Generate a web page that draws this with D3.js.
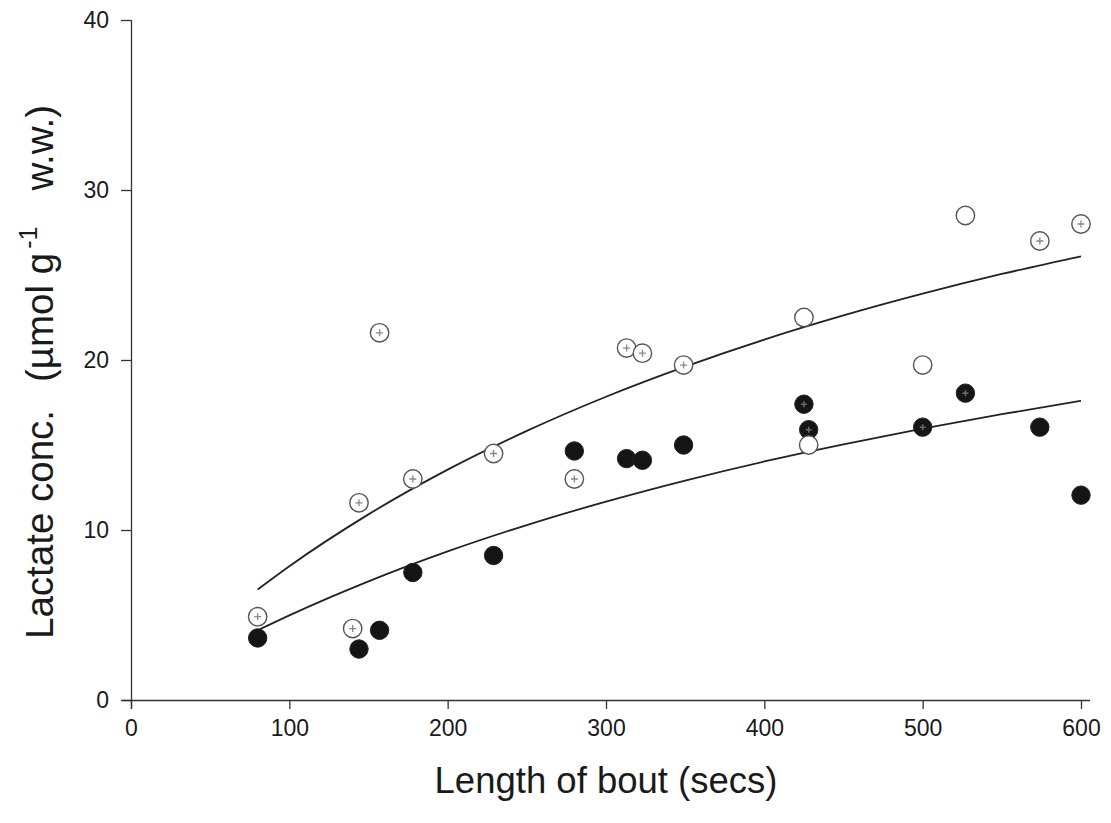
<!DOCTYPE html>
<html>
<head>
<meta charset="utf-8">
<script src="https://cdn.jsdelivr.net/npm/d3@7/dist/d3.min.js"></script>
<style>
  html, body { margin: 0; padding: 0; background: #fff; }
  svg { display: block; }
  text { font-family: "Liberation Sans", Arial, sans-serif; fill: #1a1a1a; }
</style>
</head>
<body>
<svg id="chart" width="1111" height="823"></svg>
<script>
// Bout length (s) and lactate concentration (µmol g-1 w.w.)
const openX    = [80, 140, 144, 157, 178, 229, 280, 313, 323, 349, 425, 428, 500, 527, 574, 600];
const openY    = [4.9, 4.2, 11.6, 21.6, 13.0, 14.5, 13.0, 20.7, 20.4, 19.7, 22.5, 15.0, 19.7, 28.5, 27.0, 28.0];
const openPlus = [1, 1, 1, 1, 1, 1, 1, 1, 1, 1, 0, 0, 0, 0, 1, 1];

const filledX    = [80, 144, 157, 178, 229, 280, 313, 323, 349, 425, 428, 500, 527, 574, 600];
const filledY    = [3.65, 3.0, 4.1, 7.5, 8.5, 14.65, 14.2, 14.1, 15.0, 17.4, 15.9, 16.05, 18.05, 16.05, 12.05];
const filledPlus = [0, 0, 0, 0, 0, 0, 0, 0, 0, 1, 1, 1, 1, 0, 0];

// Fitted curves
const curveX     = [80, 100, 150, 200, 250, 300, 350, 400, 450, 500, 550, 600];
const upperCurve = [6.5, 7.87, 10.92, 13.55, 15.83, 17.84, 19.61, 21.2, 22.62, 23.9, 25.06, 26.1];
const lowerCurve = [4.1, 4.98, 6.98, 8.74, 10.29, 11.67, 12.91, 14.03, 15.04, 15.96, 16.81, 17.6];

const xTicks = [0, 100, 200, 300, 400, 500, 600];
const yTicks = [0, 10, 20, 30, 40];

const svg = d3.select("#chart");
const x = d3.scaleLinear().domain([0, 600]).range([131, 1081]);
const y = d3.scaleLinear().domain([0, 40]).range([700, 20]);

const axisColor = "#333";

// X axis
const gx = svg.append("g").attr("transform", "translate(0,700)")
  .call(d3.axisBottom(x).tickValues(xTicks).tickSize(9).tickPadding(11).tickFormat(d3.format("d")));
gx.select(".domain").attr("d", `M${x(0) - 9},0.5H${x(600) + 9}`).attr("stroke", axisColor).attr("stroke-width", 1.3);
gx.selectAll(".tick line").attr("stroke", axisColor).attr("stroke-width", 1.3);
gx.selectAll(".tick text").style("font-size", "23px").attr("fill", "#1a1a1a");

// Y axis
const gy = svg.append("g").attr("transform", "translate(131,0)")
  .call(d3.axisLeft(y).tickValues(yTicks).tickSize(10).tickPadding(12).tickFormat(d3.format("d")));
gy.select(".domain").attr("d", `M0.5,${y(40)}V${y(0) + 9}`).attr("stroke", axisColor).attr("stroke-width", 1.3);
gy.selectAll(".tick line").attr("stroke", axisColor).attr("stroke-width", 1.3);
gy.selectAll(".tick text").style("font-size", "23px").attr("fill", "#1a1a1a");

// Axis titles
svg.append("text")
  .attr("x", 606).attr("y", 793)
  .attr("text-anchor", "middle")
  .style("font-size", "36.5px")
  .text("Length of bout (secs)");

const yl = svg.append("text")
  .attr("transform", "translate(53,372) rotate(-90)")
  .attr("text-anchor", "middle")
  .style("font-size", "38.5px");
yl.append("tspan").text("Lactate conc.");
yl.append("tspan").attr("dx", 28).text("(µmol g");
yl.append("tspan").attr("dx", 4).attr("dy", -16).style("font-size", "25px").text("-1");
yl.append("tspan").attr("dx", 36).attr("dy", 16).text("w.w.)");

// Curves
const line = d3.line().x(d => x(d[0])).y(d => y(d[1])).curve(d3.curveMonotoneX);
svg.append("path").datum(curveX.map((v, i) => [v, upperCurve[i]]))
  .attr("d", line).attr("fill", "none").attr("stroke", "#222").attr("stroke-width", 1.8);
svg.append("path").datum(curveX.map((v, i) => [v, lowerCurve[i]]))
  .attr("d", line).attr("fill", "none").attr("stroke", "#222").attr("stroke-width", 1.8);

const r = 9.2;
// Filled points
const filled = filledX.map((v, i) => ({ x: v, y: filledY[i], p: filledPlus[i] }));
const fg = svg.append("g").selectAll("g").data(filled).join("g")
  .attr("transform", d => `translate(${x(d.x)},${y(d.y)})`);
fg.append("circle").attr("r", r).attr("fill", "#151515").attr("stroke", "#222").attr("stroke-width", 1);
fg.filter(d => d.p).append("path").attr("d", "M-3,0H3M0,-3V3").attr("stroke", "#6a6a6a").attr("stroke-width", 1.5);

// Open points
const open = openX.map((v, i) => ({ x: v, y: openY[i], p: openPlus[i] }));
const og = svg.append("g").selectAll("g").data(open).join("g")
  .attr("transform", d => `translate(${x(d.x)},${y(d.y)})`);
og.append("circle").attr("r", r).attr("fill", "#fff").attr("stroke", "#555").attr("stroke-width", 1.4);
og.filter(d => d.p).append("path").attr("d", "M-3.5,0H3.5M0,-3.5V3.5").attr("stroke", "#888").attr("stroke-width", 1.3);
</script>
</body>
</html>
